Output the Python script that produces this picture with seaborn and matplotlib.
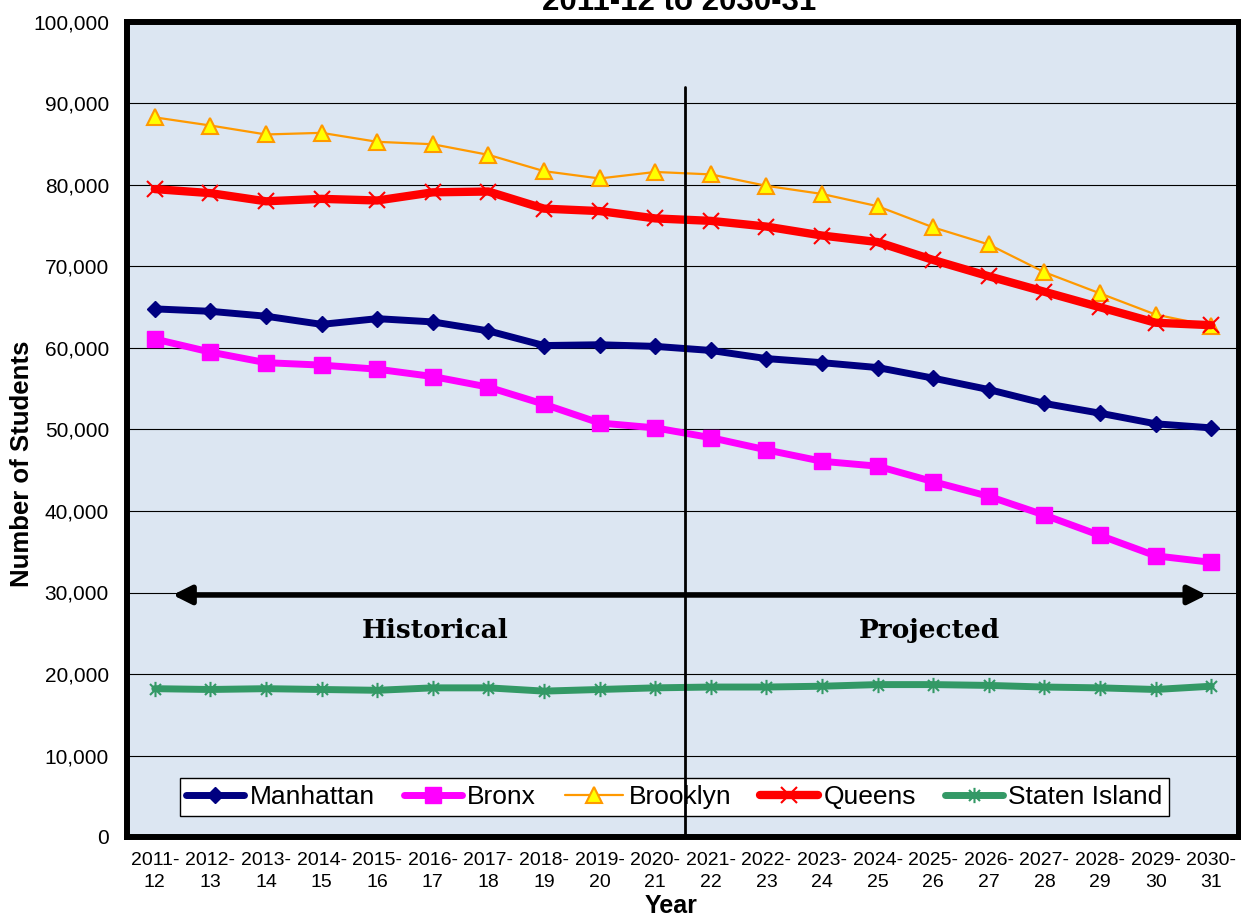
import numpy as np
import pandas as pd
import matplotlib
matplotlib.use("Agg")
import matplotlib.pyplot as plt
from matplotlib.path import Path
import seaborn as sns

# School years on the category axis
years = ["2011-12", "2012-13", "2013-14", "2014-15", "2015-16", "2016-17", "2017-18",
         "2018-19", "2019-20", "2020-21", "2021-22", "2022-23", "2023-24", "2024-25",
         "2025-26", "2026-27", "2027-28", "2028-29", "2029-30", "2030-31"]

# Enrollment by borough (number of students)
manhattan = [64800, 64500, 63900, 62900, 63600, 63200, 62100, 60300, 60400, 60200,
             59700, 58700, 58200, 57600, 56300, 54900, 53200, 52000, 50700, 50200]
bronx = [61100, 59500, 58200, 57900, 57400, 56500, 55200, 53100, 50800, 50200,
         49000, 47500, 46100, 45500, 43600, 41800, 39500, 37000, 34500, 33700]
brooklyn = [88300, 87300, 86200, 86400, 85300, 85000, 83700, 81700, 80800, 81600,
            81300, 79900, 78900, 77400, 74800, 72700, 69300, 66700, 64100, 62700]
queens = [79500, 79000, 78000, 78300, 78100, 79100, 79200, 77100, 76800, 75900,
          75600, 74900, 73800, 73000, 70800, 68800, 66900, 65000, 63100, 62800]
staten_island = [18200, 18100, 18200, 18100, 18000, 18300, 18300, 17900, 18100, 18300,
                 18400, 18400, 18500, 18700, 18700, 18600, 18400, 18300, 18100, 18500]

boroughs = ["Manhattan", "Bronx", "Brooklyn", "Queens", "Staten Island"]

sns.set_style("white")
plt.rcParams["font.family"] = ["Liberation Sans", "DejaVu Sans"]
plt.rcParams.update({
    "text.color": "black",
    "axes.labelcolor": "black",
    "xtick.color": "black",
    "ytick.color": "black",
})

W, H = 1241, 916
fig = plt.figure(figsize=(W / 100, H / 100), dpi=100)
ax = fig.add_axes([127 / W, 1 - 837 / H, 1112 / W, 815 / H])
ax.set_facecolor("#DCE6F2")

pos = np.arange(len(years))
df = pd.DataFrame({
    "pos": pos,
    "Manhattan": manhattan,
    "Bronx": bronx,
    "Brooklyn": brooklyn,
    "Queens": queens,
    "Staten Island": staten_island,
})

# Six-spoke star marker: vertical stroke plus an X
asterisk = Path(
    [(0, -1), (0, 1), (-0.72, -0.72), (0.72, 0.72), (-0.72, 0.72), (0.72, -0.72)],
    [Path.MOVETO, Path.LINETO, Path.MOVETO, Path.LINETO, Path.MOVETO, Path.LINETO],
)

styles = {
    "Manhattan": dict(color="#000080", linewidth=5, marker="D", markersize=8.5,
                      markerfacecolor="#000080", markeredgecolor="#000080", markeredgewidth=1),
    "Bronx": dict(color="#FF00FF", linewidth=5, marker="s", markersize=11,
                  markerfacecolor="#FF00FF", markeredgecolor="#FF00FF", markeredgewidth=1),
    "Brooklyn": dict(color="#FF9900", linewidth=1.6, marker="^", markersize=12,
                     markerfacecolor="#FFFF00", markeredgecolor="#FF9900", markeredgewidth=1.5),
    "Queens": dict(color="#FF0000", linewidth=6, marker="x", markersize=11,
                   markerfacecolor="#FF0000", markeredgecolor="#FF0000", markeredgewidth=1.5),
    "Staten Island": dict(color="#339966", linewidth=5, marker=asterisk, markersize=11,
                          markerfacecolor="none", markeredgecolor="#339966", markeredgewidth=1.5),
}

for name in boroughs:
    sns.lineplot(data=df, x="pos", y=name, ax=ax, label=name, estimator=None,
                 solid_joinstyle="round", solid_capstyle="round", zorder=3,
                 **styles[name])

# Axes limits and ticks
ax.set_xlim(-0.5, len(years) - 0.5)
ax.set_ylim(0, 100000)
yticks = np.arange(0, 100001, 10000)
ax.set_yticks(yticks)
ax.set_yticklabels([f"{v:,.0f}" for v in yticks])
ax.set_xticks(pos)
ax.set_xticklabels([y.replace("-", "-\n") for y in years], linespacing=1.38)
ax.set_xticks(np.arange(-0.5, len(years), 1), minor=True)
ax.tick_params(axis="x", which="major", length=0, pad=11, labelsize=14, colors="black")
ax.tick_params(axis="x", which="minor", length=5, width=1, direction="out", color="black")
ax.tick_params(axis="y", which="major", length=10, width=1, direction="out", pad=3,
               labelsize=15, colors="black")
ax.tick_params(axis="y", which="minor", length=0)

ax.grid(axis="y", color="black", linewidth=0.8)
ax.grid(axis="x", visible=False)
ax.set_axisbelow(True)

for s in ax.spines.values():
    s.set_visible(True)
    s.set_linewidth(4.3)
    s.set_color("black")

# Axis titles
ax.set_ylabel("Number of Students", fontsize=18.5, fontweight="bold")
ax.yaxis.set_label_coords((22 - 127) / 1112, (837 - 464) / 815)
ax.yaxis.label.set_va("center")
ax.set_xlabel("Year", fontsize=18, fontweight="bold")
ax.xaxis.set_label_coords((671 - 127) / 1112, (837 - 913) / 815)
ax.xaxis.label.set_va("baseline")

fig.text(679 / W, 1 - 10 / H, "2011-12 to 2030-31", ha="center", va="baseline",
         fontsize=22.5, fontweight="bold")

# Legend
handles, labels = ax.get_legend_handles_labels()
leg = ax.legend(handles, labels, loc="center", bbox_to_anchor=(674.5 / W, 1 - 797 / H),
                bbox_transform=fig.transFigure, ncol=5, fontsize=19, frameon=True,
                fancybox=False, edgecolor="black", framealpha=1, handlelength=2.2,
                handletextpad=0.2, columnspacing=1.1, borderpad=0.25, numpoints=1,
                borderaxespad=0)
leg.get_frame().set_linewidth(1)
leg.set_zorder(5)

# Divider between historical and projected years
ax.plot([9.53, 9.53], [0, 92000], color="black", linewidth=2, zorder=6)

# Double-headed span arrow
ax.annotate("", xy=(18.92, 29700), xytext=(0.32, 29700), xycoords="data",
            arrowprops=dict(arrowstyle="<|-|>,head_length=1.1,head_width=0.55",
                            lw=4, color="black", shrinkA=0, shrinkB=0), zorder=6)

ax.text(5.05, 24450, "Historical", ha="center", va="baseline", fontsize=19,
        fontweight="bold", family="DejaVu Serif", zorder=6)
ax.text(13.94, 24450, "Projected", ha="center", va="baseline", fontsize=19,
        fontweight="bold", family="DejaVu Serif", zorder=6)

fig.savefig("out.png", dpi=100)
